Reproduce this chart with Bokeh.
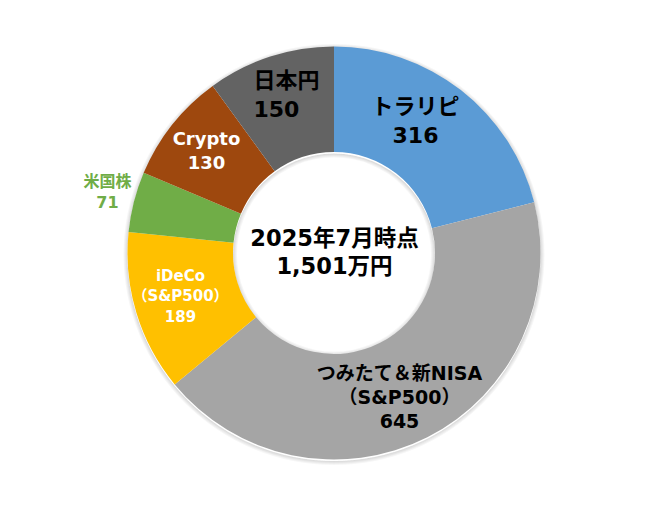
import numpy as np
from bokeh.plotting import figure
from bokeh.models import Range1d
from bokeh.core.properties import value
from bokeh.embed import file_html
from bokeh.resources import INLINE

# data
categories = ["トラリピ", "つみたて＆新NISA\n（S&P500）", "iDeCo\n（S&P500）", "米国株", "Crypto", "日本円"]
values = [316, 645, 189, 71, 130, 150]
colors = ["#5B9BD5", "#A5A5A5", "#FFC000", "#70AD47", "#9E480E", "#636363"]
center_lines = ["2025年7月時点", "1,501万円"]

# label layout (page pixel coords of the block centre / left edge)
label_x = [415, 399, 180, 107, 206, 253]
label_y = [120, 396, 295, 191, 150, 94]
label_gap = [29, 24, 20, 20, 24, 28]
label_size = ["22px", "19px", "15px", "16px", "18px", "22px"]
label_color = ["black", "black", "white", "#70AD47", "white", "black"]
label_align = ["center", "center", "center", "center", "center", "left"]

W, H = 652, 491
cx, cy = 333.5, 254.5
r_out, r_in = 206.5, 101
FONT = value("DejaVu Sans, Noto Sans CJK JP")

p = figure(width=W, height=H, output_backend="svg", toolbar_location=None,
           x_range=Range1d(0, W), y_range=Range1d(507 - H, 507),
           min_border=0, outline_line_color=None)
p.axis.visible = False
p.grid.visible = False
p.background_fill_color = "white"

# soft shadow around the ring
for k in range(1, 5):
    p.annulus(x=cx, y=cy - 1.5, inner_radius=r_out, outer_radius=r_out + k,
              fill_color="#000000", fill_alpha=0.035, line_color=None)
    p.annulus(x=cx, y=cy - 1.5, inner_radius=r_in - k, outer_radius=r_in,
              fill_color="#000000", fill_alpha=0.035, line_color=None)

total = sum(values)
frac = np.array(values) / total
ends = np.cumsum(frac)
starts = ends - frac
start_angle = np.pi / 2 - starts * 2 * np.pi
end_angle = np.pi / 2 - ends * 2 * np.pi

p.annular_wedge(x=cx, y=cy, inner_radius=r_in, outer_radius=r_out,
                start_angle=list(start_angle), end_angle=list(end_angle),
                direction="clock", fill_color=colors, line_color=None)

# labels
for i, cat in enumerate(categories):
    lines = cat.split("\n") + [str(values[i])]
    n = len(lines)
    for j, line in enumerate(lines):
        yy = label_y[i] + (j - (n - 1) / 2) * label_gap[i]
        p.text(x=[label_x[i]], y=[507 - yy], text=[line], text_font=FONT,
               text_font_size=label_size[i], text_font_style="bold",
               text_color=label_color[i], text_align=label_align[i],
               text_baseline="middle")

for j, line in enumerate(center_lines):
    yy = 251 + (j - 0.5) * 28
    p.text(x=[334], y=[507 - yy], text=[line], text_font=FONT,
           text_font_size="22.5px", text_font_style="bold", text_color="black",
           text_align="center", text_baseline="middle")

open("out.html", "w").write(file_html(p, INLINE))
